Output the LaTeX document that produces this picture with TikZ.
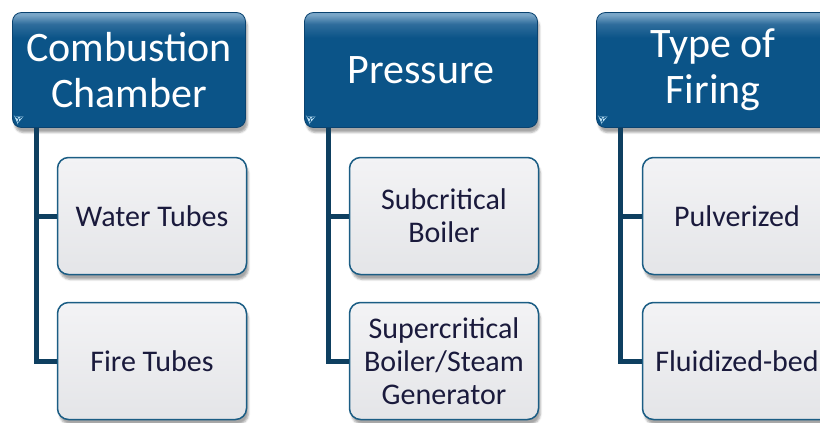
\documentclass[tikz,border=0pt]{standalone}
\usepackage{fontspec}
\setmainfont{Carlito}
\usetikzlibrary{calc,shadows.blur}

\definecolor{headblue}{HTML}{0B5488}
\definecolor{headmid}{HTML}{2F6D9C}
\definecolor{headlight}{HTML}{7AA6C8}
\definecolor{headline}{HTML}{0A4370}
\definecolor{headtip}{HTML}{BFE3F7}
\definecolor{itemtop}{HTML}{F3F3F5}
\definecolor{itembottom}{HTML}{E4E5E8}
\definecolor{itemline}{HTML}{1B5D84}
\definecolor{itemtext}{HTML}{1A1A3C}
\definecolor{branchblue}{HTML}{0E3F60}

% glossy fill for the category boxes (25bp..75bp is the box)
\pgfdeclareverticalshading{headshade}{100bp}{color(0bp)=(headblue); color(64bp)=(headblue);
  color(70bp)=(headmid); color(74bp)=(headlight); color(100bp)=(headlight)}

\begin{document}
\begin{tikzpicture}[x=1pt, y=-1pt,
      header/.style ={rectangle, rounded corners=9pt, draw=headline, line width=0.8pt,
        shading=headshade, text=white, align=center, font=\fontsize{42}{46}\selectfont,
        minimum width=233pt, minimum height=115pt,
        blur shadow={shadow xshift=2pt, shadow yshift=-5pt, shadow opacity=35},
        path picture={
          \fill[headtip] ([xshift=2pt,yshift=11pt]path picture bounding box.south west)
            -- ++(9pt,0) -- ++(-6pt,-7pt) -- cycle;
        }},
      item/.style ={rectangle, rounded corners=11pt, draw=itemline, line width=1.5pt,
        top color=itemtop, bottom color=itembottom, text=itemtext, align=center,
        font=\fontsize{30}{33}\selectfont,
        minimum width=189pt, minimum height=117pt,
        blur shadow={shadow xshift=2pt, shadow yshift=-5pt, shadow opacity=35}},
      branch/.style ={line width=5pt, draw=branchblue}]

   \useasboundingbox (0,0) rectangle (820,423);
   \clip (0,0) rectangle (820,423);

   % the three categories
   \node[header] (A) at (129,70) {Combustion\\Chamber};
   \node[header] (B) at (421,70) {Pressure};
   \node[header] (C) at (713,70) {Type of\\Firing};

   % their kinds
   \node[item] (A1) at (152,216) {Water Tubes};
   \node[item] (A2) at (152,361) {Fire Tubes};
   \node[item] (B1) at (444,216) {Subcritical\\Boiler};
   \node[item] (B2) at (444,361) {Supercritical\\Boiler/Steam\\Generator};
   \node[item] (C1) at (737,216) {Pulverized};
   \node[item] (C2) at (737,361) {Fluidized-bed};

   \draw[branch] ($(A.south west)+(24,0)$) |- (A1.west);
   \draw[branch] ($(A.south west)+(24,0)$) |- (A2.west);

   \draw[branch] ($(B.south west)+(24,0)$) |- (B1.west);
   \draw[branch] ($(B.south west)+(24,0)$) |- (B2.west);

   \draw[branch] ($(C.south west)+(24,0)$) |- (C1.west);
   \draw[branch] ($(C.south west)+(24,0)$) |- (C2.west);

 \end{tikzpicture}
\end{document}
